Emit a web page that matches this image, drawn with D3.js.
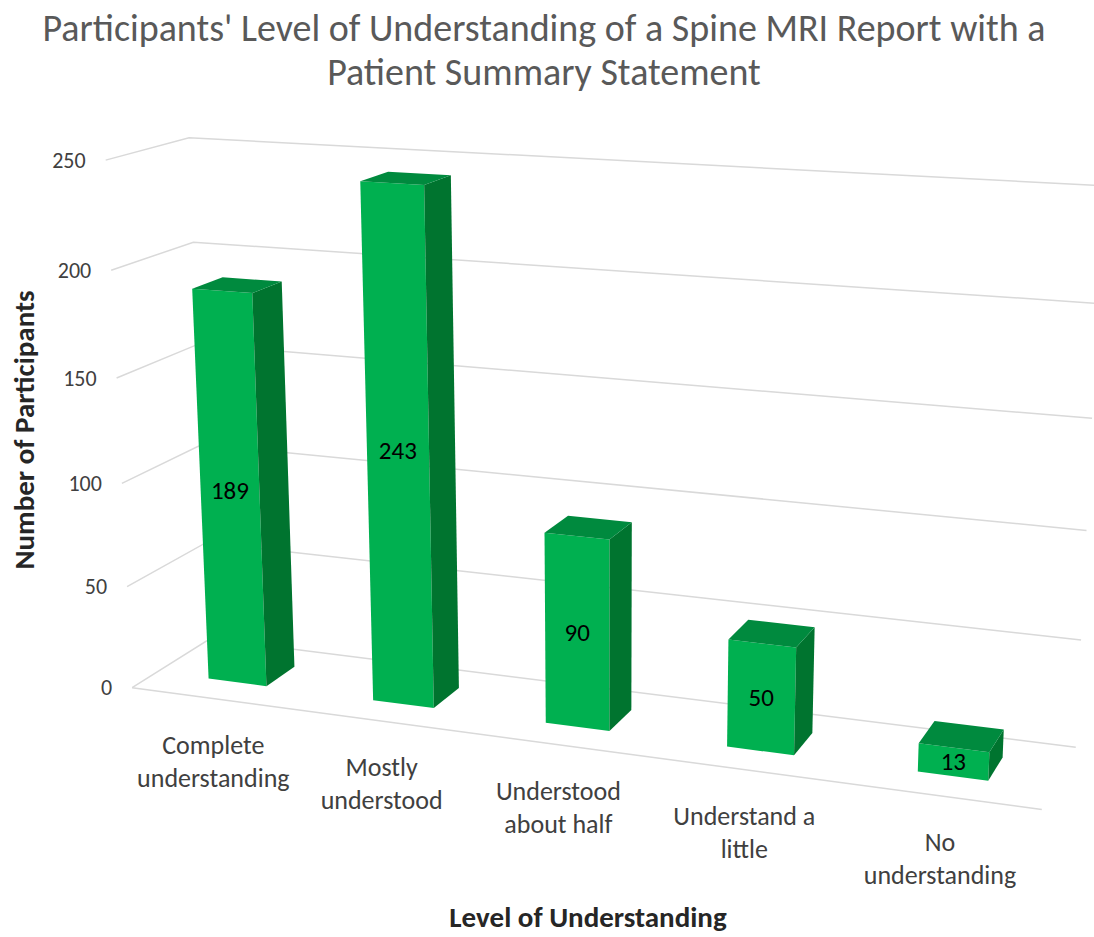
<!DOCTYPE html>
<html>
<head>
<meta charset="utf-8">
<script src="https://cdn.jsdelivr.net/npm/d3@7"></script>
<style>
    body { margin: 0; background: #fff; }
    text { font-family: Carlito, Lato, "Open Sans", sans-serif; }
</style>
</head>
<body>
<div id="chart"></div>
<script>

// chart data
const categories = [
    ["Complete", "understanding"],
    ["Mostly", "understood"],
    ["Understood", "about half"],
    ["Understand a", "little"],
    ["No", "understanding"]
];
const values = [189, 243, 90, 50, 13];
const yTicks = [0, 50, 100, 150, 200, 250];

const titleLines = ["Participants' Level of Understanding of a Spine MRI Report with a", "Patient Summary Statement"];
const xTitle = "Level of Understanding";
const yTitle = "Number of Participants";

// 3d view: world (x = category slot, y = value/50, z = depth 0..1) -> screen
const camera = [
    [157.3117, -6.403673, 89.42501, 132.1336],
    [5.233002, -107.1886, -13.50668, 687.6423],
    [-0.02363611, -0.01052849, 0.05529940, 1]
];

function project(X, Y, Z) {
    let d = camera[2][0] * X + camera[2][1] * Y + camera[2][2] * Z + camera[2][3];
    return [
        (camera[0][0] * X + camera[0][1] * Y + camera[0][2] * Z + camera[0][3]) / d,
        (camera[1][0] * X + camera[1][1] * Y + camera[1][2] * Z + camera[1][3]) / d
    ];
}

let width = 1094, height = 937;

let svg = d3.select("#chart").append("svg")
    .attr("width", width)
    .attr("height", height);

// scales in world units
let x = d3.scaleBand()
    .domain(d3.range(values.length))
    .range([0, values.length])
    .paddingInner(0.643)
    .paddingOuter(0.3215);

let y = d3.scaleLinear()
    .domain([0, 250])
    .range([0, 5]);

let barZ = [0.312, 0.695];   // bar depth inside the floor
let xMax = values.length;

let line = d3.line();

// gridlines: side wall + back wall, plus the floor front edge
let grid = svg.append("g").attr("class", "grid");
yTicks.forEach(t => {
    let pts = [project(0, y(t), 0), project(0, y(t), 1), project(xMax, y(t), 1)];
    grid.append("path")
        .attr("d", line(pts))
        .attr("fill", "none")
        .attr("stroke", "#d9d9d9")
        .attr("stroke-width", 1.5);
});
grid.append("path")
    .attr("d", line([project(0, 0, 0), project(xMax, 0, 0)]))
    .attr("fill", "none")
    .attr("stroke", "#d9d9d9")
    .attr("stroke-width", 1.5);

// y tick labels
svg.append("g").selectAll("text")
    .data(yTicks)
    .enter().append("text")
    .attr("x", d => project(0, y(d), 0)[0] - 20)
    .attr("y", d => project(0, y(d), 0)[1])
    .attr("text-anchor", "end")
    .attr("dominant-baseline", "central")
    .attr("font-size", 22)
    .attr("fill", "#404040")
    .text(d => d);

// bars, drawn back to front (left to right here)
let bars = svg.append("g").attr("class", "bars");
values.forEach((v, i) => {
    let x0 = x(i), x1 = x(i) + x.bandwidth();
    let h = y(v);
    let [z0, z1] = barZ;

    let front = [project(x0, h, z0), project(x1, h, z0), project(x1, 0, z0), project(x0, 0, z0)];
    let side = [project(x1, h, z0), project(x1, h, z1), project(x1, 0, z1), project(x1, 0, z0)];
    let top = [project(x0, h, z0), project(x1, h, z0), project(x1, h, z1), project(x0, h, z1)];

    let g = bars.append("g");
    g.append("path").attr("d", line(front) + "Z").attr("fill", "#00b050");
    g.append("path").attr("d", line(side) + "Z").attr("fill", "#00742f");
    g.append("path").attr("d", line(top) + "Z").attr("fill", "#008a3e");

    // value label in the middle of the front face
    let c = project((x0 + x1) / 2, h / 2, z0);
    g.append("text")
        .attr("x", c[0])
        .attr("y", c[1])
        .attr("text-anchor", "middle")
        .attr("dominant-baseline", "central")
        .attr("font-size", 25)
        .attr("fill", "#000")
        .text(v);
});

// category labels
let catLabels = svg.append("g");
categories.forEach((lines, i) => {
    let p = project(i + 0.5, 0, 0);
    let t = catLabels.append("text")
        .attr("text-anchor", "middle")
        .attr("font-size", 26)
        .attr("fill", "#404040");
    lines.forEach((l, k) => {
        t.append("tspan")
            .attr("x", p[0])
            .attr("y", p[1] + 46 + k * 33)
            .attr("dominant-baseline", "central")
            .text(l);
    });
});

// titles
svg.append("g").selectAll("text")
    .data(titleLines)
    .enter().append("text")
    .attr("x", 544)
    .attr("y", (d, k) => 41 + k * 44)
    .attr("text-anchor", "middle")
    .attr("font-size", 38)
    .attr("font-weight", 300)
    .attr("fill", "#595959")
    .text(d => d);

svg.append("text")
    .attr("x", 588)
    .attr("y", 927)
    .attr("text-anchor", "middle")
    .attr("font-size", 29)
    .attr("font-weight", "bold")
    .attr("fill", "#262626")
    .text(xTitle);

svg.append("text")
    .attr("transform", "translate(24,430) rotate(-90)")
    .attr("text-anchor", "middle")
    .attr("dominant-baseline", "central")
    .attr("font-size", 29)
    .attr("font-weight", "bold")
    .attr("fill", "#262626")
    .text(yTitle);

</script>
</body>
</html>
